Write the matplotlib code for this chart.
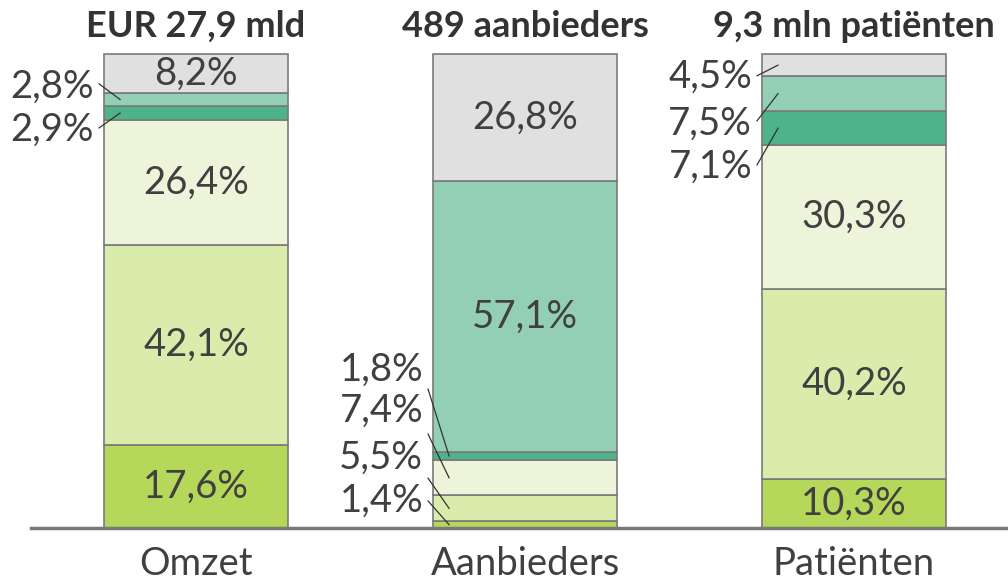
import numpy as np
import matplotlib.pyplot as plt

plt.rcParams['font.family'] = ['Lato', 'DejaVu Sans']

categories = ["Omzet", "Aanbieders", "Patiënten"]
titles = ["EUR 27,9 mld", "489 aanbieders", "9,3 mln patiënten"]
# segments from bottom to top
segments = np.array([
    [17.6, 42.1, 26.4, 2.9, 2.8, 8.2],
    [1.4, 5.5, 7.4, 1.8, 57.1, 26.8],
    [10.3, 40.2, 30.3, 7.1, 7.5, 4.5],
])
colors = ["#b5d75a", "#d9ecab", "#eef4d9", "#4db38b", "#93cfb4", "#e0e0e0"]

# small segments labelled outside: (bar, segment, text y, line start y)
outside = [
    (0, 4, 93.0, 93.7), (0, 3, 84.0, 84.4),
    (1, 3, 33.3, 29.3), (1, 2, 24.7, 19.8), (1, 1, 14.8, 10.5), (1, 0, 5.7, 5.7),
    (2, 5, 95.1, 95.4), (2, 4, 85.2, 85.9), (2, 3, 76.2, 76.6),
]

def fmt(v):
    return f"{v:.1f}%".replace(".", ",")

fig = plt.figure(figsize=(10.08, 5.80), dpi=100)
ax = fig.add_axes([0, 0, 1, 1])
ax.set_xlim(-0.596, 2.468)
ax.set_ylim(-10.97, 111.39)
ax.axis("off")

px = 1 / 329  # one pixel in x data units
width = 184 * px
text_col = "#404040"
fs = 27.5
x = np.arange(len(categories))

bottom = np.zeros(len(categories))
for j in range(segments.shape[1]):
    vals = segments[:, j]
    ax.bar(x, vals, width, bottom=bottom, color=colors[j],
           edgecolor="#7a7a7a", linewidth=1.2, zorder=2)
    for i in range(len(categories)):
        if vals[i] >= 8:
            ax.text(x[i], bottom[i] + vals[i] / 2, fmt(vals[i]), ha="center",
                    va="center", fontsize=fs, color=text_col, zorder=3)
    bottom += vals

cum = np.cumsum(segments, axis=1)
for i, j, ty, ly in outside:
    left = x[i] - width / 2
    mid = cum[i, j] - segments[i, j] / 2
    ax.text(left - 10 * px, ty, fmt(segments[i, j]), ha="right", va="center",
            fontsize=fs, color=text_col)
    ax.plot([left - 5 * px, left + 16 * px], [ly, mid], color="#333333",
            linewidth=0.9, zorder=4)

for i in range(len(categories)):
    ax.text(x[i], 105.8, titles[i], ha="center", va="center", fontsize=26,
            fontweight="bold", color="#333333")
    ax.text(x[i], -7.6, categories[i], ha="center", va="center", fontsize=fs,
            color=text_col)

ax.axhline(0, xmin=31 / 1008, xmax=1, color="#7a7a7a", linewidth=2.5, zorder=5)

fig.savefig("out.png", dpi=100)
